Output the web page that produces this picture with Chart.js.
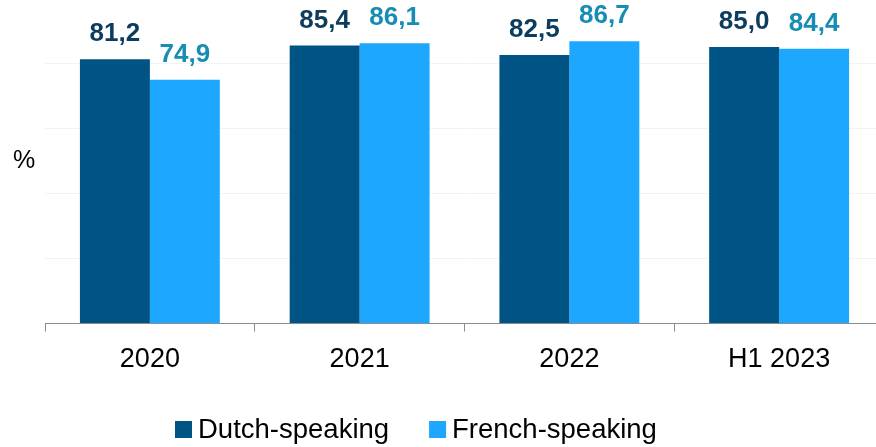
<!DOCTYPE html>
<html>
<head>
<meta charset="utf-8">
<script src="https://cdn.jsdelivr.net/npm/chart.js@4"></script>
<style>
  html, body { margin: 0; padding: 0; background: #fff; overflow: hidden; }
  #wrap { width: 884px; height: 447px; }
</style>
</head>
<body>
<div id="wrap"><canvas id="myChart" width="884" height="447"></canvas></div>
<script>
const categories = ['2020', '2021', '2022', 'H1 2023']
const dutchValues = [81.2, 85.4, 82.5, 85.0]
const frenchValues = [74.9, 86.1, 86.7, 84.4]
const yTicks = [0, 20, 40, 60, 80]

const DUTCH_BAR = '#005385'
const FRENCH_BAR = '#1ea7ff'
const DUTCH_LABEL = '#0c3d5e'
const FRENCH_LABEL = '#168db2'
const FONT = '"Liberation Sans", Arial, sans-serif'

const fmt = v => v.toFixed(1).replace('.', ',')

// value labels above each bar, plus the "%" unit and the legend
const extras = {
    id: 'extras',
    afterDatasetsDraw(chart) {
        const ctx = chart.ctx
        ctx.save()
        ctx.textAlign = 'center'
        ctx.textBaseline = 'alphabetic'
        ctx.font = 'bold 26px ' + FONT
        chart.data.datasets.forEach((ds, i) => {
            ctx.fillStyle = ds.labelColor
            chart.getDatasetMeta(i).data.forEach((bar, j) => {
                ctx.fillText(fmt(ds.data[j]), bar.x, bar.y - 18)
            })
        })

        ctx.font = '25px ' + FONT
        ctx.fillStyle = '#000'
        ctx.textBaseline = 'middle'
        ctx.fillText('%', 24, 161)

        // legend
        ctx.font = '27.5px ' + FONT
        ctx.textAlign = 'left'
        ctx.textBaseline = 'alphabetic'
        let x = 175
        chart.data.datasets.forEach(ds => {
            ctx.fillStyle = ds.backgroundColor
            ctx.fillRect(x, 421, 17, 17)
            ctx.fillStyle = '#000'
            ctx.fillText(ds.label, x + 23, 438)
            x += 23 + ctx.measureText(ds.label).width + 40
        })
        ctx.restore()
    }
}

new Chart(document.getElementById('myChart'), {
    type: 'bar',
    data: {
        labels: categories,
        datasets: [
            { label: 'Dutch-speaking', data: dutchValues, backgroundColor: DUTCH_BAR, labelColor: DUTCH_LABEL },
            { label: 'French-speaking', data: frenchValues, backgroundColor: FRENCH_BAR, labelColor: FRENCH_LABEL }
        ]
    },
    options: {
        responsive: false,
        animation: false,
        categoryPercentage: 0.667,
        barPercentage: 1.0,
        layout: { padding: { left: 45, right: 0, top: 0, bottom: 59 } },
        plugins: {
            legend: { display: false },
            tooltip: { enabled: false }
        },
        scales: {
            x: {
                border: { display: true, color: '#8c8c8c', width: 1 },
                grid: { display: true, offset: true, drawOnChartArea: false, drawTicks: true, tickLength: 8, color: '#8c8c8c' },
                ticks: { color: '#000', padding: 12, font: { family: FONT, size: 27 } }
            },
            y: {
                min: 0,
                max: 99.4,
                afterBuildTicks: axis => { axis.ticks = yTicks.map(v => ({ value: v })) },
                border: { display: false },
                grid: {
                    drawTicks: false,
                    color: c => (c.tick && c.tick.value === 0) ? 'rgba(0,0,0,0)' : '#f3f3f3'
                },
                ticks: { display: false }
            }
        }
    },
    plugins: [extras]
})
</script>
</body>
</html>
